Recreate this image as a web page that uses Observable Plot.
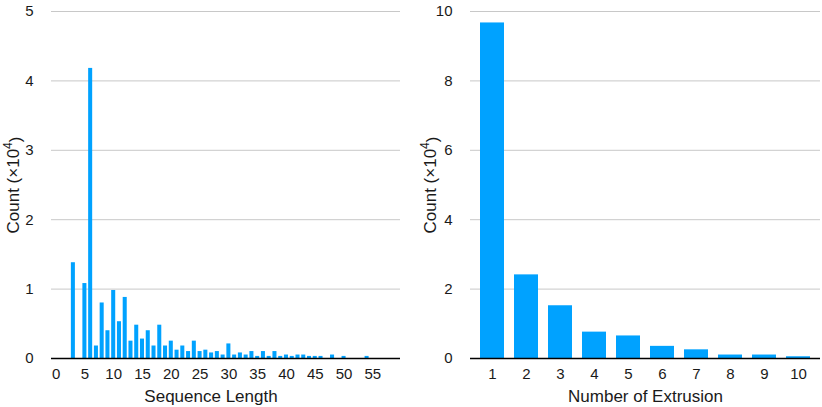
<!DOCTYPE html>
<html><head><meta charset="utf-8">
<script src="https://cdn.jsdelivr.net/npm/d3@7"></script>
<script src="https://cdn.jsdelivr.net/npm/@observablehq/plot@0.6"></script>
<style>
body{margin:0;background:#fff;font-family:"Liberation Sans",Arial,sans-serif;}
#wrap{display:flex;width:822px;height:407px;overflow:hidden;}
svg{display:block;}
</style></head><body><div id="wrap"></div>
<script>
// Left chart: sequence length distribution (counts in units of 10^4)
const seqLengths = [3,5,6,7,8,9,10,11,12,13,14,15,16,17,18,19,20,21,22,23,24,25,26,27,28,29,30,31,32,33,34,35,36,37,38,39,40,41,42,43,44,45,46,48,50,54];
const seqCounts  = [1.38,1.08,4.18,0.18,0.80,0.40,0.98,0.53,0.88,0.25,0.48,0.28,0.40,0.18,0.48,0.18,0.25,0.12,0.18,0.10,0.25,0.10,0.12,0.08,0.10,0.05,0.21,0.05,0.08,0.05,0.10,0.03,0.10,0.03,0.10,0.03,0.05,0.03,0.05,0.05,0.03,0.03,0.03,0.05,0.03,0.03];
const seqDomain  = d3.range(0, 60);
const seqTicks   = [0,5,10,15,20,25,30,35,40,45,50,55];
const leftYTicks = [0,1,2,3,4,5];

// Right chart: number of extrusions (counts in units of 10^4)
const extrusions      = [1,2,3,4,5,6,7,8,9,10];
const extrusionCounts = [9.67,2.41,1.52,0.76,0.65,0.35,0.25,0.10,0.10,0.05];
const rightYTicks     = [0,2,4,6,8,10];

const blue = "#00a2ff";
const font = "'Liberation Sans', Arial, sans-serif";

const seqData = seqLengths.map((x, i) => ({x, y: seqCounts[i]}));
const extData = extrusions.map((x, i) => ({x, y: extrusionCounts[i]}));

function chart({data, domain, xTicks, yTicks, yMax, xLabel, marginLeft, marginRight, po, yLabelOffset, xLabelShift}) {
  const svg = Plot.plot({
    width: 411, height: 407,
    marginLeft, marginRight, marginTop: 11, marginBottom: 49,
    style: {fontFamily: font, fontSize: "15px", color: "#1a1a1a", background: "white", overflow: "visible"},
    x: {type: "band", domain, paddingInner: 0.3, paddingOuter: po},
    y: {domain: [0, yMax]},
    marks: [
      Plot.gridY(yTicks.filter(d => d > 0), {stroke: "#c8c8c8", strokeOpacity: 1, strokeWidth: 1}),
      Plot.barY(data, {x: "x", y: "y", fill: blue}),
      Plot.ruleY([0], {stroke: "#000", strokeWidth: 1.6}),
      Plot.axisY(yTicks, {tickSize: 0, tickPadding: 18, fontSize: 15, tickFormat: d => String(d),
        label: "Count (×10⁴)", labelAnchor: "center", labelOffset: yLabelOffset, labelArrow: "none"}),
      Plot.axisX(xTicks, {tickSize: 0, tickPadding: 10, fontSize: 15, tickFormat: d => String(d),
        label: xLabel, labelAnchor: "center", labelOffset: 43, labelArrow: "none"})
    ]
  });
  svg.querySelectorAll("g[aria-label='y-axis label'], g[aria-label='x-axis label']").forEach(g => {
    g.setAttribute("font-size", "17");
    g.querySelectorAll("text").forEach(t => t.setAttribute("font-size", "17"));
  });
  const yl = svg.querySelector("g[aria-label='y-axis label'] text");
  if (yl) {
    yl.textContent = "Count (×10";
    const sup = document.createElementNS("http://www.w3.org/2000/svg", "tspan");
    sup.setAttribute("font-size", "12");
    sup.setAttribute("dy", "-0.55em");
    sup.textContent = "4";
    const close = document.createElementNS("http://www.w3.org/2000/svg", "tspan");
    close.setAttribute("dy", "0.55em");
    close.setAttribute("font-size", "17");
    close.textContent = ")";
    yl.append(sup, close);
  }
  const xl = svg.querySelector("g[aria-label='x-axis label']");
  if (xl && xLabelShift) {
    const tr = xl.getAttribute("transform") || "";
    xl.setAttribute("transform", `translate(${xLabelShift},0) ${tr}`);
  }
  return svg;
}

const left = chart({data: seqData, domain: seqDomain, xTicks: seqTicks, yTicks: leftYTicks, yMax: 5,
  xLabel: "Sequence Length", marginLeft: 51, marginRight: 11, po: 0.45, yLabelOffset: 45, xLabelShift: -15});
const right = chart({data: extData, domain: extrusions, xTicks: extrusions, yTicks: rightYTicks, yMax: 10,
  xLabel: "Number of Extrusion", marginLeft: 59, marginRight: 2, po: 0.18, yLabelOffset: 47, xLabelShift: 0});

document.getElementById("wrap").append(left, right);
</script>
</body></html>
